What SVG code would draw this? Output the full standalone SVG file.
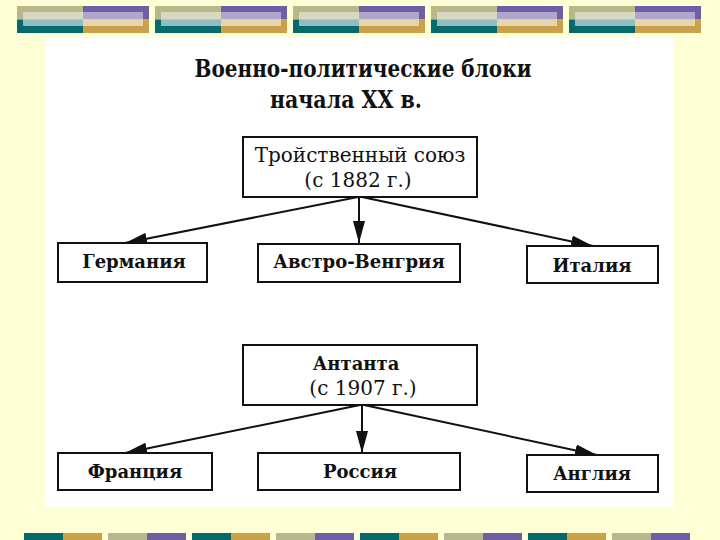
<svg xmlns="http://www.w3.org/2000/svg" width="720" height="540" viewBox="0 0 720 540">
<defs>
<style>
.box{fill:#fff;stroke:#111;stroke-width:2}
.t{font-family:"DejaVu Serif","Liberation Serif",serif;fill:#111;text-anchor:middle}
.b{font-weight:bold}
.con{stroke:#111;stroke-width:2;fill:none;marker-end:url(#ah)}
</style>
<marker id="ah" markerUnits="userSpaceOnUse" markerWidth="24" markerHeight="12" refX="22" refY="6" orient="auto">
<path d="M0,0 L22,6 L0,12 Z" fill="#111"/>
</marker>
<g id="blk">
<rect x="0" y="0" width="66" height="13.5" fill="#BAB78B"/>
<rect x="0" y="13.5" width="66" height="13.5" fill="#066A6C"/>
<rect x="66" y="0" width="66" height="13.5" fill="#6D5EA6"/>
<rect x="66" y="13.5" width="66" height="13.5" fill="#C9A14A"/>
<rect x="6" y="6" width="120" height="14" fill="#fff" opacity="0.45"/>
<rect x="6" y="14" width="120" height="6" fill="#fff" opacity="0.2"/>
</g>
<g id="pr">
<rect x="0" y="0" width="39" height="10" fill="#066A6C"/>
<rect x="39" y="0" width="39" height="10" fill="#C9A14A"/>
<rect x="84" y="0" width="39" height="10" fill="#BAB78B"/>
<rect x="123" y="0" width="39" height="10" fill="#6D5EA6"/>
</g>
</defs>
<rect width="720" height="540" fill="#FFFFD6"/>
<g id="topbar">
<use href="#blk" x="17" y="6"/>
<use href="#blk" x="155" y="6"/>
<use href="#blk" x="293" y="6"/>
<use href="#blk" x="431" y="6"/>
<use href="#blk" x="569" y="6"/>
</g>
<g id="bottombar">
<use href="#pr" x="24" y="533"/>
<use href="#pr" x="192" y="533"/>
<use href="#pr" x="360" y="533"/>
<use href="#pr" x="528" y="533"/>
</g>
<rect x="45" y="38" width="628" height="469" fill="#fff"/>
<g id="title">
<text class="t b" x="363" y="77" font-size="24" textLength="337" lengthAdjust="spacingAndGlyphs">Военно-политические блоки</text>
<text class="t b" x="346" y="108" font-size="24" textLength="152" lengthAdjust="spacingAndGlyphs">начала XX в.</text>
</g>
<g id="connectors">
<line class="con" x1="358" y1="197" x2="125" y2="243"/>
<line class="con" x1="359" y1="197" x2="359" y2="243"/>
<line class="con" x1="362" y1="197" x2="593" y2="246"/>
<line class="con" x1="360" y1="405" x2="125" y2="453"/>
<line class="con" x1="362" y1="405" x2="362" y2="453"/>
<line class="con" x1="364" y1="405" x2="597" y2="455"/>
</g>
<g id="triple">
<rect class="box" x="243" y="137" width="234" height="60"/>
<text class="t" x="360" y="162" font-size="20">Тройственный союз</text>
<text class="t" x="358" y="187" font-size="20">(с 1882 г.)</text>
</g>
<g id="germany">
<rect class="box" x="58" y="243" width="149" height="39"/>
<text class="t b" x="134" y="268" font-size="18">Германия</text>
</g>
<g id="austria">
<rect class="box" x="258" y="244" width="202" height="38"/>
<text class="t b" x="359" y="268" font-size="18">Австро-Венгрия</text>
</g>
<g id="italy">
<rect class="box" x="527" y="246" width="131" height="37"/>
<text class="t b" x="592" y="272" font-size="18">Италия</text>
</g>
<g id="entente">
<rect class="box" x="243" y="345" width="234" height="60"/>
<text class="t b" x="356" y="370" font-size="18">Антанта</text>
<text class="t" x="363" y="395" font-size="20">(с 1907 г.)</text>
</g>
<g id="france">
<rect class="box" x="58" y="453" width="154" height="37"/>
<text class="t b" x="135" y="478" font-size="18">Франция</text>
</g>
<g id="russia">
<rect class="box" x="258" y="453" width="202" height="37"/>
<text class="t b" x="360" y="478" font-size="18">Россия</text>
</g>
<g id="england">
<rect class="box" x="527" y="455" width="131" height="37"/>
<text class="t b" x="592" y="480" font-size="18">Англия</text>
</g>
</svg>
